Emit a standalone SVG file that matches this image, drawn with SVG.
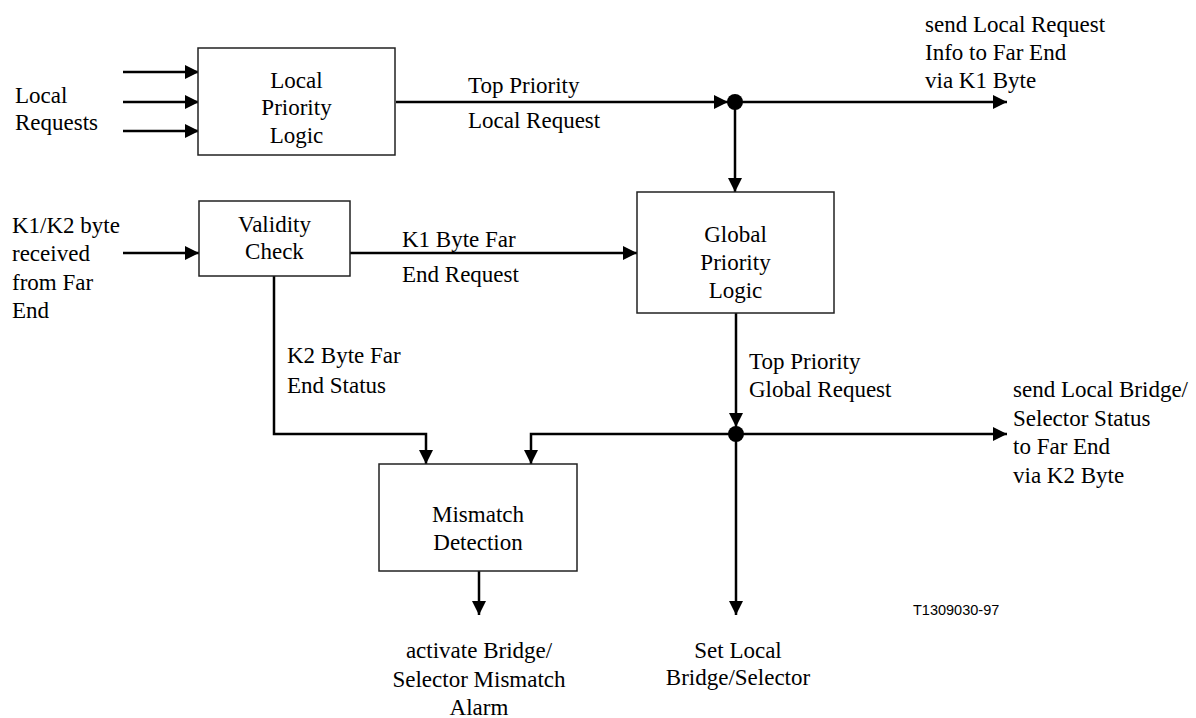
<svg xmlns="http://www.w3.org/2000/svg" width="1196" height="718" viewBox="0 0 1196 718" font-family="'Liberation Serif', 'Times New Roman', 'DejaVu Serif', serif">
  <defs>
    <marker id="arrow" markerUnits="userSpaceOnUse" markerWidth="15" markerHeight="15" viewBox="0 0 15 15" refX="14" refY="7.5" orient="auto">
      <path d="M0,0.5 L14,7.5 L0,14.5 Z" fill="#000"/>
    </marker>
    <style>
      .box { fill: #fff; stroke: #222; stroke-width: 1.5; }
      .wire { fill: none; stroke: #000; stroke-width: 2.5; }
      .arr { marker-end: url(#arrow); }
      .t { font-family: 'Liberation Serif', 'Times New Roman', 'DejaVu Serif', serif; font-size: 23px; fill: #000; }
      .mid { text-anchor: middle; }
      .code { font-family: 'Liberation Sans', Arial, sans-serif; font-size: 14.5px; fill: #000; }
    </style>
  </defs>
  <rect width="1196" height="718" fill="#fff"/>

  <!-- connectors -->
  <g id="connectors">
    <line class="wire arr" x1="123" y1="72" x2="199" y2="72"/>
    <line class="wire arr" x1="123" y1="102" x2="199" y2="102"/>
    <line class="wire arr" x1="123" y1="131" x2="199" y2="131"/>
    <line class="wire arr" x1="396" y1="102" x2="728" y2="102"/>
    <line class="wire arr" x1="735" y1="102" x2="1007" y2="102"/>
    <line class="wire arr" x1="735" y1="102" x2="735" y2="192"/>
    <line class="wire arr" x1="123" y1="253" x2="199" y2="253"/>
    <line class="wire arr" x1="350" y1="253" x2="637" y2="253"/>
    <polyline class="wire arr" points="274,276 274,434 426,434 426,464"/>
    <line class="wire arr" x1="736" y1="313" x2="736" y2="427"/>
    <polyline class="wire arr" points="736,434 531,434 531,464"/>
    <line class="wire arr" x1="736" y1="434" x2="1007" y2="434"/>
    <line class="wire arr" x1="736" y1="434" x2="736" y2="615"/>
    <line class="wire arr" x1="479" y1="571" x2="479" y2="615"/>
    <circle cx="735" cy="102" r="8" fill="#000"/>
    <circle cx="736" cy="434" r="8" fill="#000"/>
  </g>

  <!-- local priority logic -->
  <g id="local-priority">
    <rect class="box" x="198" y="48" width="197" height="107"/>
    <text class="t mid" x="296.5" y="88">Local</text>
    <text class="t mid" x="296.5" y="115">Priority</text>
    <text class="t mid" x="296.5" y="143">Logic</text>
  </g>

  <!-- validity check -->
  <g id="validity-check">
    <rect class="box" x="199" y="201" width="151" height="75"/>
    <text class="t mid" x="274.5" y="232">Validity</text>
    <text class="t mid" x="274.5" y="259">Check</text>
  </g>

  <!-- global priority logic -->
  <g id="global-priority">
    <rect class="box" x="637" y="192" width="197" height="121"/>
    <text class="t mid" x="735.5" y="242">Global</text>
    <text class="t mid" x="735.5" y="270">Priority</text>
    <text class="t mid" x="735.5" y="298">Logic</text>
  </g>

  <!-- mismatch detection -->
  <g id="mismatch-detection">
    <rect class="box" x="379" y="464" width="198" height="107"/>
    <text class="t mid" x="478" y="522">Mismatch</text>
    <text class="t mid" x="478" y="550">Detection</text>
  </g>

  <!-- labels -->
  <g id="labels" class="t">
    <text class="t" x="15" y="103">Local</text>
    <text class="t" x="15" y="130">Requests</text>

    <text class="t" x="12" y="233">K1/K2 byte</text>
    <text class="t" x="12" y="261">received</text>
    <text class="t" x="12" y="290">from Far</text>
    <text class="t" x="12" y="318">End</text>

    <text class="t" x="468" y="93">Top Priority</text>
    <text class="t" x="468" y="128">Local Request</text>

    <text class="t" x="925" y="32">send Local Request</text>
    <text class="t" x="925" y="60">Info to Far End</text>
    <text class="t" x="925" y="88">via K1 Byte</text>

    <text class="t" x="402" y="247">K1 Byte Far</text>
    <text class="t" x="402" y="282">End Request</text>

    <text class="t" x="287" y="363">K2 Byte Far</text>
    <text class="t" x="287" y="393">End Status</text>

    <text class="t" x="749" y="369">Top Priority</text>
    <text class="t" x="749" y="397">Global Request</text>

    <text class="t" x="1013" y="397">send Local Bridge/</text>
    <text class="t" x="1013" y="426">Selector Status</text>
    <text class="t" x="1013" y="454">to Far End</text>
    <text class="t" x="1013" y="483">via K2 Byte</text>

    <text class="t mid" x="479" y="658">activate Bridge/</text>
    <text class="t mid" x="479" y="687">Selector Mismatch</text>
    <text class="t mid" x="479" y="715">Alarm</text>

    <text class="t mid" x="738" y="658">Set Local</text>
    <text class="t mid" x="738" y="685">Bridge/Selector</text>
  </g>

  <g id="figure-code">
    <text class="code" x="913" y="615">T1309030-97</text>
  </g>
</svg>
